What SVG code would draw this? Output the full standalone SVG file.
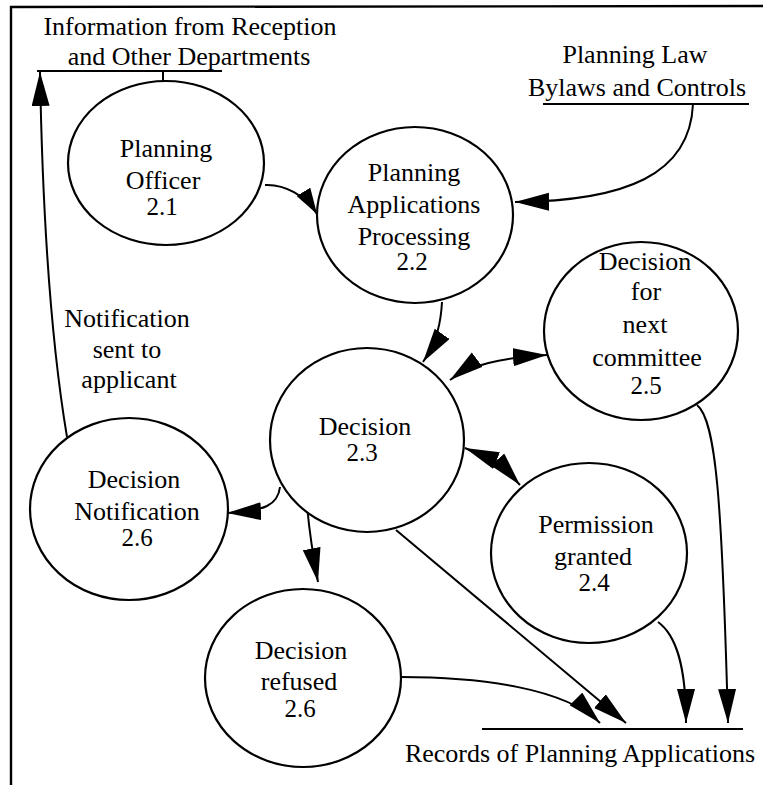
<svg xmlns="http://www.w3.org/2000/svg" width="763" height="785" viewBox="0 0 763 785">
  <style>
    text { font-family: "Liberation Serif", "Times New Roman", serif; font-size: 26px; fill: #000; text-anchor: middle; }
    .num { font-size: 25px; }
    .proc { fill: #fff; stroke: #000; stroke-width: 2.2; }
    .edge { fill: none; stroke: #000; stroke-width: 2; }
    .store { fill: none; stroke: #000; stroke-width: 2; }
    .frame { fill: none; stroke: #000; stroke-width: 2.4; }
  </style>
  <defs>
    <marker id="arrow" markerUnits="userSpaceOnUse" markerWidth="36" markerHeight="20" refX="34" refY="9" orient="auto-start-reverse">
      <path d="M0,0 L34,9 L0,18 z" fill="#000"/>
    </marker>
    <marker id="arrow-small" markerUnits="userSpaceOnUse" markerWidth="28" markerHeight="18" refX="26" refY="8" orient="auto">
      <path d="M0,0 L26,8 L0,16 z" fill="#000"/>
    </marker>
  </defs>

  <rect width="763" height="785" fill="#fff"/>

  <!-- page frame -->
  <path class="frame" d="M11,785 L11,7 L763,6"/>

  <!-- data stores and external sources -->
  <g id="store-reception">
    <text x="190" y="35">Information from Reception</text>
    <text x="189" y="65">and Other Departments</text>
    <line class="store" x1="37" y1="71" x2="222" y2="71"/>
    <line class="store" x1="163" y1="71" x2="163" y2="82"/>
  </g>
  <g id="store-law">
    <text x="635" y="63">Planning Law</text>
    <text x="637" y="96">Bylaws and Controls</text>
    <line class="store" x1="543" y1="104" x2="749" y2="104"/>
  </g>
  <g id="store-records">
    <line class="store" x1="482" y1="729" x2="743" y2="729"/>
    <text x="580" y="762">Records of Planning Applications</text>
  </g>
  <g id="label-notification">
    <text x="127" y="327">Notification</text>
    <text x="127" y="358">sent to</text>
    <text x="129" y="388">applicant</text>
  </g>

  <!-- connectors -->
  <g id="connectors">
    <path class="edge" d="M67,437 Q44,300 40,72" marker-end="url(#arrow)"/>
    <path class="edge" d="M265,185 C285,184 306,196 317,214" marker-end="url(#arrow-small)"/>
    <path class="edge" d="M693,104 C690,175 625,201 515,202" marker-end="url(#arrow)"/>
    <path class="edge" d="M442,302 C441,320 438,340 423,362" marker-end="url(#arrow)"/>
    <path class="edge" d="M450,380 C470,365 500,358 547,355" marker-start="url(#arrow)" marker-end="url(#arrow)"/>
    <path class="edge" d="M465,448 C485,456 505,468 520,485" marker-start="url(#arrow)" marker-end="url(#arrow)"/>
    <path class="edge" d="M280,487 C278,505 265,511 227,513" marker-end="url(#arrow)"/>
    <path class="edge" d="M307,505 Q310,540 318,582" marker-end="url(#arrow)"/>
    <path class="edge" d="M396,530 L626,723" marker-end="url(#arrow)"/>
    <path class="edge" d="M401,677 C480,677 565,688 600,723" marker-end="url(#arrow)"/>
    <path class="edge" d="M658,622 C676,635 686,665 686,723" marker-end="url(#arrow)"/>
    <path class="edge" d="M697,405 C716,420 722,500 728,723" marker-end="url(#arrow)"/>
  </g>

  <!-- processes -->
  <g id="p2-1">
    <ellipse class="proc" cx="166" cy="163" rx="98" ry="82"/>
    <text x="166" y="157">Planning</text>
    <text x="163" y="189">Officer</text>
    <text class="num" x="162" y="215">2.1</text>
  </g>
  <g id="p2-2">
    <ellipse class="proc" cx="415" cy="215" rx="98" ry="88"/>
    <text x="414" y="181">Planning</text>
    <text x="414" y="213">Applications</text>
    <text x="414" y="245">Processing</text>
    <text class="num" x="412" y="270">2.2</text>
  </g>
  <g id="p2-5">
    <ellipse class="proc" cx="641" cy="331" rx="97" ry="89"/>
    <text x="645" y="270">Decision</text>
    <text x="646" y="300">for</text>
    <text x="645" y="333">next</text>
    <text x="647" y="366">committee</text>
    <text class="num" x="646" y="394">2.5</text>
  </g>
  <g id="p2-3">
    <ellipse class="proc" cx="367" cy="440" rx="97" ry="92"/>
    <text x="365" y="435">Decision</text>
    <text class="num" x="362" y="461">2.3</text>
  </g>
  <g id="p2-6-notification">
    <ellipse class="proc" cx="129" cy="509" rx="99" ry="91"/>
    <text x="134" y="488">Decision</text>
    <text x="137" y="520">Notification</text>
    <text class="num" x="137" y="546">2.6</text>
  </g>
  <g id="p2-4">
    <ellipse class="proc" cx="589" cy="553" rx="98" ry="90"/>
    <text x="596" y="533">Permission</text>
    <text x="593" y="565">granted</text>
    <text class="num" x="594" y="591">2.4</text>
  </g>
  <g id="p2-6-refused">
    <ellipse class="proc" cx="303" cy="678" rx="98" ry="89"/>
    <text x="301" y="659">Decision</text>
    <text x="299" y="690">refused</text>
    <text class="num" x="300" y="717">2.6</text>
  </g>
</svg>
